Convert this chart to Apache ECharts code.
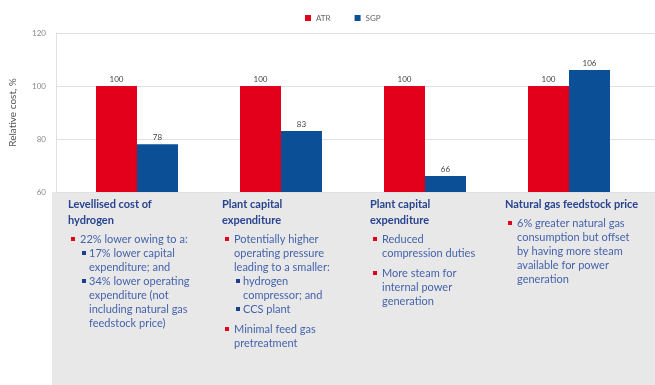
<!DOCTYPE html>
<html>
<head>
<meta charset="utf-8">
<style>
  html, body { margin: 0; padding: 0; background: #ffffff; }
  #chart { width: 655px; height: 385px; }
</style>
<script src="https://cdn.jsdelivr.net/npm/echarts@6/dist/echarts.min.js"></script>
</head>
<body>
<div id="chart"></div>
<script>
// Relative cost of SGP versus ATR for four cost drivers
const categories = ['Levellised cost of hydrogen', 'Plant capital expenditure', 'Plant capital expenditure', 'Natural gas feedstock price'];
const atrValues = [100, 100, 100, 100];
const sgpValues = [78, 83, 66, 106];
const yTicks = { min: 60, max: 120, interval: 20 };

// Notes written under each pair of bars: title lines, then bullets (level 1 = main, 2 = sub)
const noteTitles = [
  ['Levellised cost of', 'hydrogen'],
  ['Plant capital', 'expenditure'],
  ['Plant capital', 'expenditure'],
  ['Natural gas feedstock price']
];
const noteBullets = [
  [
    { level: 1, lines: ['22% lower owing to a:'] },
    { level: 2, lines: ['17% lower capital', 'expenditure; and'] },
    { level: 2, lines: ['34% lower operating', 'expenditure (not', 'including natural gas', 'feedstock price)'] }
  ],
  [
    { level: 1, lines: ['Potentially higher', 'operating pressure', 'leading to a smaller:'] },
    { level: 2, lines: ['hydrogen', 'compressor; and'] },
    { level: 2, lines: ['CCS plant'] },
    { level: 1, lines: ['Minimal feed gas', 'pretreatment'] }
  ],
  [
    { level: 1, lines: ['Reduced', 'compression duties'] },
    { level: 1, lines: ['More steam for', 'internal power', 'generation'] }
  ],
  [
    { level: 1, lines: ['6% greater natural gas', 'consumption but offset', 'by having more steam', 'available for power', 'generation'] }
  ]
];

const RED = '#e2001a';
const BLUE = '#0b4f97';
const FONT = 'Lato, "Open Sans", sans-serif';

// Layout of the note panel
const panelTop = 192;
const noteColumnX = [68, 222, 370, 505];
const titleTop = 204, titleLine = 16, bodyLine = 14;

function buildNotes() {
  const els = [{
    type: 'rect', z: 0,
    shape: { x: 52, y: panelTop, width: 603, height: 385 - panelTop },
    style: { fill: '#e8e8e9' }
  }];
  noteTitles.forEach((title, c) => {
    const x0 = noteColumnX[c];
    let y = titleTop;
    title.forEach(line => {
      els.push({ type: 'text', z: 2, x: x0, y: y,
        style: { text: line, fill: '#28448f', font: 'bold 11px ' + FONT, textVerticalAlign: 'middle' } });
      y += titleLine;
    });
    y += 3;
    noteBullets[c].forEach((item, i) => {
      if (item.level === 1 && i > 0) y += 6;
      const bx = x0 + (item.level === 1 ? 3 : 14);
      const tx = x0 + (item.level === 1 ? 12 : 21);
      els.push({ type: 'rect', z: 2,
        shape: { x: bx, y: y - 2, width: 4, height: 4 },
        style: { fill: item.level === 1 ? RED : '#1d3f8f' } });
      item.lines.forEach(line => {
        els.push({ type: 'text', z: 2, x: tx, y: y,
          style: { text: line, fill: '#4563ab', font: '11px ' + FONT, textVerticalAlign: 'middle' } });
        y += bodyLine;
      });
    });
  });
  return els;
}

const chart = echarts.init(document.getElementById('chart'), null, { renderer: 'canvas' });
const barLabel = { show: true, position: 'top', distance: 3, fontSize: 8, color: '#444', fontFamily: FONT };

chart.setOption({
  animation: false,
  backgroundColor: '#ffffff',
  textStyle: { fontFamily: FONT },
  legend: {
    top: 9, left: 300,
    icon: 'rect', itemWidth: 6, itemHeight: 6, itemGap: 24,
    textStyle: { fontSize: 8, color: '#666', fontFamily: FONT },
    data: ['ATR', 'SGP']
  },
  grid: [
    { left: 52, right: 0, top: 33, bottom: 385 - panelTop },
    { left: 65, right: 14, top: 33, bottom: 385 - panelTop }
  ],
  xAxis: [
    { gridIndex: 0, type: 'value', show: false },
    { gridIndex: 1, type: 'category', data: categories, show: false }
  ],
  yAxis: [
    {
      gridIndex: 0, type: 'value', min: yTicks.min, max: yTicks.max, interval: yTicks.interval,
      name: 'Relative cost, %', nameLocation: 'middle', nameGap: 38,
      nameTextStyle: { fontSize: 10, color: '#555', fontFamily: FONT },
      axisLine: { show: true, lineStyle: { color: '#e0e0e0' } },
      axisTick: { show: false },
      axisLabel: { fontSize: 8, color: '#888', margin: 10, fontFamily: FONT },
      splitLine: { lineStyle: { color: '#e0e0e0', width: 1 } }
    },
    { gridIndex: 1, type: 'value', min: yTicks.min, max: yTicks.max, interval: yTicks.interval, show: false, splitLine: { show: false } }
  ],
  series: [
    { name: 'ATR', type: 'bar', xAxisIndex: 1, yAxisIndex: 1, data: atrValues, barWidth: 41, barGap: '0%',
      itemStyle: { color: RED }, label: barLabel, z: 3 },
    { name: 'SGP', type: 'bar', xAxisIndex: 1, yAxisIndex: 1, data: sgpValues, barWidth: 41, barGap: '0%',
      itemStyle: { color: BLUE }, label: barLabel, z: 3 }
  ],
  graphic: buildNotes()
});
</script>
</body>
</html>
